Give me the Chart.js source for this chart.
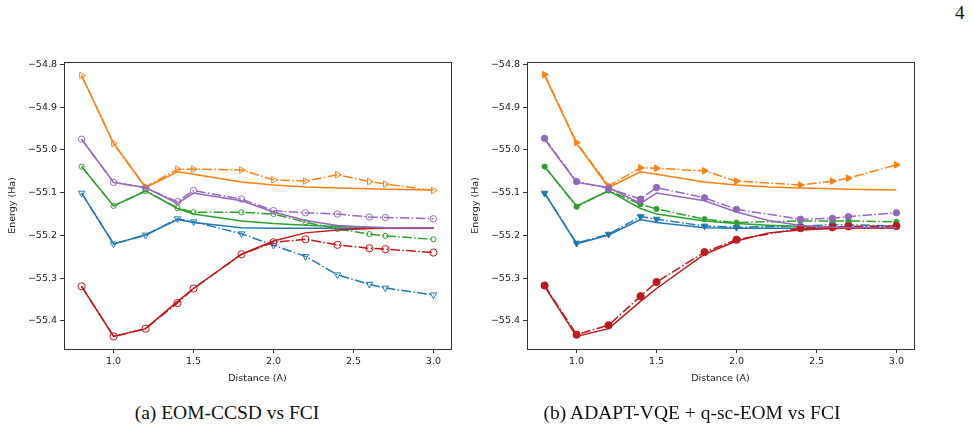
<!DOCTYPE html>
<html>
<head>
<meta charset="utf-8">
<script src="https://cdn.jsdelivr.net/npm/chart.js@4.4.1/dist/chart.umd.min.js"></script>
<style>
  body { margin: 0; background: #fff; }
  #page { position: relative; width: 974px; height: 429px; overflow: hidden; background: #fff; }
  canvas { position: absolute; top: 40px; }
  .caption { position: absolute; top: 400px; width: 460px; text-align: center;
             font-family: 'Liberation Serif', serif; font-size: 19.5px; color: #111; line-height: 26px; }
  #pagenum { position: absolute; left: 955px; top: 2px; font-family: 'Liberation Serif', serif; font-size: 19px; color: #111; }
</style>
</head>
<body>
<div id="page">
  <div id="pagenum">4</div>
  <canvas id="chartA" width="465" height="360" style="left:0px"></canvas>
  <canvas id="chartB" width="465" height="360" style="left:463px"></canvas>
  <div class="caption" style="left:-3px">(a) EOM-CCSD vs FCI</div>
  <div class="caption" style="left:462px">(b) ADAPT-VQE + q-sc-EOM vs FCI</div>
</div>
<script>
// bond distances (A)
const distance = [0.8, 1.0, 1.2, 1.4, 1.5, 1.8, 2.0, 2.2, 2.4, 2.6, 2.7, 3.0];
const distanceAdapt = [0.8, 1.0, 1.2, 1.4, 1.5, 1.8, 2.0, 2.4, 2.6, 2.7, 3.0];

const xTicks = [1.0, 1.5, 2.0, 2.5, 3.0];
const yTicks = [-54.8, -54.9, -55.0, -55.1, -55.2, -55.3, -55.4];

// FCI reference (solid lines)
const fciBlue   = [-55.101, -55.220, -55.199, -55.163, -55.170, -55.182, -55.183, -55.183, -55.183, -55.183, -55.183, -55.183];
const fciOrange = [-54.826, -54.985, -55.088, -55.051, -55.057, -55.075, -55.082, -55.087, -55.089, -55.091, -55.092, -55.094];
const fciGreen  = [-55.039, -55.131, -55.096, -55.137, -55.150, -55.166, -55.172, -55.176, -55.179, -55.181, -55.182, -55.182];
const fciRed    = [-55.319, -55.436, -55.418, -55.354, -55.324, -55.244, -55.213, -55.194, -55.187, -55.184, -55.183, -55.183];
const fciPurple = [-54.975, -55.076, -55.088, -55.125, -55.101, -55.119, -55.145, -55.165, -55.177, -55.181, -55.182, -55.182];

// EOM-CCSD (left panel)
const eomBlue   = [-55.101, -55.220, -55.199, -55.161, -55.168, -55.196, -55.223, -55.249, -55.292, -55.314, -55.323, -55.339];
const eomOrange = [-54.826, -54.985, -55.087, -55.045, -55.045, -55.047, -55.070, -55.073, -55.058, -55.074, -55.080, -55.095];
const eomGreen  = [-55.039, -55.131, -55.096, -55.136, -55.146, -55.146, -55.150, -55.169, -55.185, -55.197, -55.201, -55.209];
const eomRed    = [-55.319, -55.436, -55.418, -55.358, -55.324, -55.244, -55.216, -55.209, -55.222, -55.230, -55.232, -55.240];
const eomPurple = [-54.975, -55.076, -55.089, -55.121, -55.095, -55.115, -55.142, -55.147, -55.150, -55.157, -55.158, -55.161];

// ADAPT-VQE + q-sc-EOM (right panel)
const adaptBlue   = [-55.101, -55.218, -55.197, -55.156, -55.162, -55.178, -55.181, -55.178, -55.175, -55.175, -55.178];
const adaptOrange = [-54.824, -54.983, -55.084, -55.042, -55.043, -55.049, -55.073, -55.082, -55.073, -55.066, -55.035];
const adaptGreen  = [-55.039, -55.133, -55.095, -55.127, -55.138, -55.162, -55.170, -55.166, -55.166, -55.166, -55.168];
const adaptRed    = [-55.317, -55.432, -55.410, -55.342, -55.309, -55.239, -55.210, -55.183, -55.181, -55.179, -55.178];
const adaptPurple = [-54.973, -55.074, -55.090, -55.115, -55.088, -55.112, -55.139, -55.162, -55.160, -55.156, -55.147];

const colors = { blue: '#1f77b4', orange: '#ff7f0e', green: '#2ca02c', red: '#c0161c', purple: '#9467bd' };

// marker per state
const markers = {
  blue:   { style: 'triangle', rotation: 180, radius: 3.8 },
  orange: { style: 'triangle', rotation: 90,  radius: 3.8 },
  green:  { style: 'circle',   rotation: 0,   radius: 2.6 },
  red:    { style: 'circle',   rotation: 0,   radius: 3.6 },
  purple: { style: 'circle',   rotation: 0,   radius: 3.2 }
};

const dashDot = [9.6, 2.4, 1.5, 2.4];

Chart.defaults.font.family = "'DejaVu Sans', sans-serif";
Chart.defaults.font.size = 9.5;
Chart.defaults.color = '#222';

function pts(xs, ys) {
  return xs.map((x, i) => ({ x: x, y: ys[i] }));
}

const frame = {
  id: 'frame',
  afterDatasetsDraw(chart) {
    const a = chart.chartArea;
    const ctx = chart.ctx;
    ctx.save();
    ctx.strokeStyle = '#333';
    ctx.lineWidth = 1;
    ctx.strokeRect(Math.round(a.left) + 0.5, Math.round(a.top) + 0.5,
                   Math.round(a.right - a.left), Math.round(a.bottom - a.top));
    ctx.restore();
  }
};

function buildDatasets(methodXs, method, hollow) {
  const sets = [];
  ['purple', 'red', 'green', 'orange', 'blue'].forEach(function(key) {
    const m = markers[key];
    sets.push({
      data: pts(methodXs, method[key]),
      borderColor: colors[key],
      borderWidth: 1.5,
      borderDash: dashDot,
      pointStyle: m.style,
      pointRotation: m.rotation,
      pointRadius: m.radius,
      pointBorderWidth: 1,
      pointBorderColor: colors[key],
      pointBackgroundColor: hollow ? 'rgba(0,0,0,0)' : colors[key]
    });
    sets.push({
      data: pts(distance, fci[key]),
      borderColor: colors[key],
      borderWidth: 1.5,
      pointRadius: 0
    });
  });
  return sets;
}

const fci = { blue: fciBlue, orange: fciOrange, green: fciGreen, red: fciRed, purple: fciPurple };
const eom = { blue: eomBlue, orange: eomOrange, green: eomGreen, red: eomRed, purple: eomPurple };
const adapt = { blue: adaptBlue, orange: adaptOrange, green: adaptGreen, red: adaptRed, purple: adaptPurple };

function makeChart(canvasId, datasets) {
  const ctx = document.getElementById(canvasId).getContext('2d');
  return new Chart(ctx, {
    type: 'line',
    data: { datasets: datasets },
    plugins: [frame],
    options: {
      responsive: false,
      animation: false,
      devicePixelRatio: 1,
      layout: { padding: { left: 0, top: 22, right: 14, bottom: 0 } },
      plugins: { legend: { display: false }, tooltip: { enabled: false } },
      elements: { line: { tension: 0, fill: false } },
      scales: {
        x: {
          type: 'linear',
          min: 0.69,
          max: 3.11,
          afterBuildTicks: function(scale) { scale.ticks = xTicks.map(v => ({ value: v })); },
          afterFit: function(scale) { scale.height = 51; },
          ticks: { callback: v => v.toFixed(1), padding: 3, maxRotation: 0, color: '#222' },
          grid: { display: true, drawOnChartArea: false, drawTicks: true, tickLength: 4, color: '#333' },
          border: { display: false },
          title: { display: true, text: 'Distance (A)', padding: { top: 0, bottom: 16 }, color: '#222' }
        },
        y: {
          type: 'linear',
          min: -55.4655,
          max: -54.7945,
          afterBuildTicks: function(scale) { scale.ticks = yTicks.map(v => ({ value: v })); },
          afterFit: function(scale) { scale.width = 64; },
          ticks: { callback: v => v.toFixed(1).replace('-', '\u2212'), padding: 3, color: '#222' },
          grid: { display: true, drawOnChartArea: false, drawTicks: true, tickLength: 4, color: '#333' },
          border: { display: false },
          title: { display: true, text: 'Energy (Ha)', padding: { top: 7, bottom: 0 }, color: '#222' }
        }
      }
    }
  });
}

makeChart('chartA', buildDatasets(distance, eom, true));
makeChart('chartB', buildDatasets(distanceAdapt, adapt, false));
</script>
</body>
</html>
